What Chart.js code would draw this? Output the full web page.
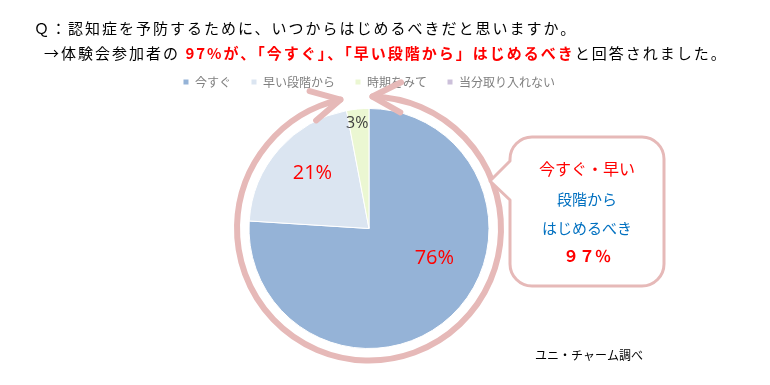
<!DOCTYPE html>
<html>
<head>
<meta charset="utf-8">
<script src="https://cdn.jsdelivr.net/npm/chart.js@4.4.1/dist/chart.umd.min.js"></script>
<style>
  body { margin: 0; background: #fff; }
  #wrap { position: relative; width: 770px; height: 385px; overflow: hidden; }
  #chart { position: absolute; left: 0; top: 0; }
  .title { position: absolute; font-family: "Noto Sans CJK JP", sans-serif; font-size: 15px; letter-spacing: 2px; color: #000; white-space: nowrap; line-height: 20px; }
  .red { color: #ff0000; font-weight: bold; letter-spacing: 2px; }
</style>
</head>
<body>
<div id="wrap">
  <canvas id="chart" width="770" height="385"></canvas>
  <div class="title" style="left:34px; top:18px;">Ｑ：認知症を予防するために、いつからはじめるべきだと思いますか。</div>
  <div class="title" style="left:44px; top:43px;">→体験会参加者の <span class="red">97%が、「今すぐ」、「早い段階から」はじめるべき</span>と回答されました。</div>
</div>
<script>
const categories = ['今すぐ', '早い段階から', '時期をみて', '当分取り入れない'];
const values = [76, 21, 3, 0];
const valueLabels = ['76%', '21%', '3%', ''];
const sliceColors = ['#95b3d7', '#dbe5f1', '#ebf7d2', '#ccc0da'];

const FONT = '"Noto Sans CJK JP", sans-serif';
const deg = Math.PI / 180;

// percent labels inside the slices
const sliceLabels = {
  id: 'sliceLabels',
  afterDatasetsDraw(chart) {
    const ctx = chart.ctx;
    const arcs = chart.getDatasetMeta(0).data;
    // radial fraction, angle nudge (deg), colour, size
    const place = [[0.6, -22, '#ff0000', 20], [0.66, 3, '#ff0000', 20], [0.88, -1, '#404040', 16]];
    ctx.save();
    ctx.textAlign = 'center';
    ctx.textBaseline = 'middle';
    arcs.forEach((arc, i) => {
      if (!valueLabels[i]) return;
      const p = arc.getProps(['x', 'y', 'startAngle', 'endAngle', 'outerRadius'], true);
      const [f, nudge, color, size] = place[i];
      const a = (p.startAngle + p.endAngle) / 2 + nudge * deg;
      ctx.fillStyle = color;
      ctx.font = size + 'px "Open Sans", sans-serif';
      ctx.fillText(valueLabels[i], p.x + Math.cos(a) * p.outerRadius * f, p.y + Math.sin(a) * p.outerRadius * f);
    });
    ctx.restore();
  }
};

// pink ring with arrows and the speech bubble
const decorations = {
  id: 'decorations',
  afterDraw(chart) {
    const ctx = chart.ctx;
    const arc = chart.getDatasetMeta(0).data[0];
    const cx = arc.x, cy = arc.y;
    const R = arc.outerRadius + 12;
    const pink = '#e6b9b8';

    ctx.save();
    ctx.strokeStyle = pink;
    ctx.lineWidth = 6;
    ctx.lineCap = 'round';
    ctx.lineJoin = 'round';
    const t1 = 1.5, t2 = -12.5; // angles from top, clockwise
    ctx.beginPath();
    ctx.arc(cx, cy, R, (t1 - 90) * deg, (t2 + 360 - 90) * deg);
    ctx.stroke();

    const arrow = (t, back) => {
      const tx = cx + R * Math.sin(t * deg), ty = cy - R * Math.cos(t * deg);
      const b = Math.atan2(back * Math.sin(t * deg), back * Math.cos(t * deg));
      ctx.beginPath();
      ctx.moveTo(tx + 32 * Math.cos(b + 28 * deg), ty + 32 * Math.sin(b + 28 * deg));
      ctx.lineTo(tx, ty);
      ctx.lineTo(tx + 32 * Math.cos(b - 28 * deg), ty + 32 * Math.sin(b - 28 * deg));
      ctx.stroke();
    };
    arrow(t2, -1);
    arrow(t1, 1);

    // bubble
    const x0 = 510, x1 = 664, y0 = 137, y1 = 286, r = 22;
    ctx.lineWidth = 3;
    ctx.fillStyle = '#fff';
    ctx.beginPath();
    ctx.moveTo(x0 + r, y0);
    ctx.lineTo(x1 - r, y0);
    ctx.arcTo(x1, y0, x1, y0 + r, r);
    ctx.lineTo(x1, y1 - r);
    ctx.arcTo(x1, y1, x1 - r, y1, r);
    ctx.lineTo(x0 + r, y1);
    ctx.arcTo(x0, y1, x0, y1 - r, r);
    ctx.lineTo(x0, 200);
    ctx.lineTo(490, 181);
    ctx.lineTo(x0, 161);
    ctx.lineTo(x0, y0 + r);
    ctx.arcTo(x0, y0, x0 + r, y0, r);
    ctx.closePath();
    ctx.fill();
    ctx.stroke();

    ctx.textAlign = 'center';
    ctx.textBaseline = 'middle';
    const mid = (x0 + x1) / 2;
    ctx.font = '16px ' + FONT;
    ctx.fillStyle = '#ff0000';
    ctx.fillText('今すぐ・早い', mid, 169);
    ctx.font = '15px ' + FONT;
    ctx.fillStyle = '#0070c0';
    ctx.fillText('段階から', mid, 199);
    ctx.fillText('はじめるべき', mid, 228);
    ctx.font = 'bold 16px ' + FONT;
    ctx.fillStyle = '#ff0000';
    ctx.fillText('９７％', mid, 256);

    ctx.textAlign = 'left';
    ctx.font = '12px ' + FONT;
    ctx.fillStyle = '#000';
    ctx.fillText('ユニ・チャーム調べ', 535, 355);
    ctx.restore();
  }
};

new Chart(document.getElementById('chart'), {
  type: 'pie',
  data: {
    labels: categories,
    datasets: [{
      data: values,
      backgroundColor: sliceColors,
      borderColor: '#ffffff',
      borderWidth: 1
    }]
  },
  options: {
    responsive: false,
    animation: false,
    radius: 120,
    layout: { padding: { top: 56, right: 32, left: 0, bottom: 26 } },
    plugins: {
      legend: {
        position: 'top',
        labels: {
          boxWidth: 6,
          boxHeight: 6,
          padding: 20,
          color: '#7f7f7f',
          font: { size: 12, family: FONT }
        }
      },
      tooltip: { enabled: false }
    }
  },
  plugins: [sliceLabels, decorations]
});
</script>
</body>
</html>
